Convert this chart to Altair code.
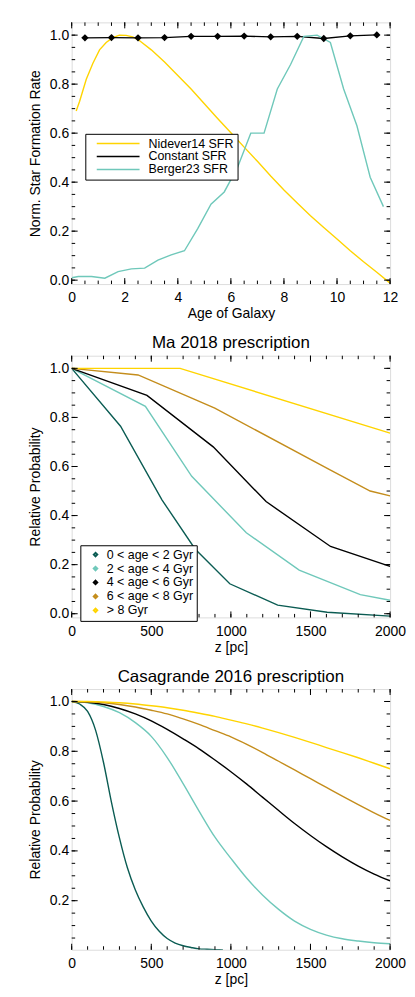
import altair as alt
import pandas as pd

FONT = "Liberation Sans"

# ---------------- Panel 1 : star formation histories ----------------
nid_age = [0.17, 0.3, 0.55, 0.8, 1.05, 1.3, 1.55, 1.8, 2.05, 2.3, 2.55, 3.0, 3.5, 4.0, 4.5,
           5.0, 5.5, 6.0, 6.5, 7.0, 7.5, 8.0, 8.5, 9.0, 9.5, 10.0, 10.5, 11.0, 11.5, 12.0]
nid_sfr = [0.69, 0.73, 0.82, 0.885, 0.94, 0.97, 0.99, 1.0, 0.999, 0.993, 0.978, 0.94, 0.89, 0.835,
           0.78, 0.72, 0.66, 0.602, 0.543, 0.485, 0.425, 0.368, 0.315, 0.263, 0.215, 0.168, 0.12,
           0.075, 0.032, -0.012]

const_age = [0.5, 1.5, 2.5, 3.5, 4.5, 5.5, 6.5, 7.5, 8.5, 9.5, 10.5, 11.5]
const_sfr = [0.989, 0.99, 0.989, 0.99, 0.995, 0.995, 0.996, 0.993, 0.995, 0.986, 0.997, 1.001]

ber_age = [0.0, 0.25, 0.75, 1.25, 1.75, 2.25, 2.75, 3.25, 3.75, 4.25, 4.75, 5.25, 5.75, 6.25,
           6.75, 7.25, 7.75, 8.25, 8.75, 9.25, 9.75, 10.25, 10.75, 11.25, 11.75]
ber_sfr = [0.01, 0.015, 0.015, 0.008, 0.035, 0.046, 0.049, 0.082, 0.103, 0.12, 0.21, 0.31, 0.36,
           0.46, 0.60, 0.60, 0.78, 0.88, 0.995, 1.0, 0.97, 0.78, 0.63, 0.42, 0.30]

SFR_NAMES = ["Nidever14 SFR", "Constant SFR", "Berger23 SFR"]
SFR_COLORS = ["#FFD400", "#000000", "#6FC8BA"]

# ---------------- Panel 2 : Ma 2018 ----------------
AGE_BINS = ["0 < age < 2 Gyr", "2 < age < 4 Gyr", "4 < age < 6 Gyr", "6 < age < 8 Gyr", "> 8 Gyr"]
AGE_COLORS = ["#0B5C53", "#6FC8BA", "#000000", "#C48D1C", "#FFD400"]

ma_z_0 = [0, 307, 567, 775, 993, 1294, 1605, 2000]
ma_p_0 = [1.0, 0.764, 0.464, 0.264, 0.122, 0.035, 0.006, -0.01]
ma_z_1 = [0, 463, 754, 1097, 1429, 1813, 2000]
ma_p_1 = [1.0, 0.845, 0.56, 0.33, 0.178, 0.078, 0.055]
ma_z_2 = [0, 473, 889, 1221, 1626, 2000]
ma_p_2 = [1.0, 0.89, 0.68, 0.457, 0.274, 0.193]
ma_z_3 = [0, 417, 899, 1626, 1875, 2000]
ma_p_3 = [1.0, 0.973, 0.838, 0.585, 0.50, 0.48]
ma_z_4 = [0, 681, 2000]
ma_p_4 = [1.0, 1.0, 0.736]

# ---------------- Panel 3 : Casagrande 2016 ----------------
cas_z_0 = [0, 50, 100, 150, 200, 250, 300, 350, 400, 450, 500, 550, 600, 650, 700, 750, 800,
           850, 900, 950]
cas_p_0 = [1.0, 0.99, 0.96, 0.885, 0.755, 0.595, 0.452, 0.332, 0.243, 0.174, 0.118, 0.077,
           0.048, 0.03, 0.019, 0.012, 0.0065, 0.005, 0.0035, 0.002]
cas_z = [0, 100, 200, 300, 400, 500, 600, 700, 800, 900, 1000, 1100, 1200, 1300, 1400, 1500,
         1600, 1700, 1800, 1900, 2000]
cas_p_1 = [1.0, 0.995, 0.98, 0.955, 0.915, 0.86, 0.775, 0.67, 0.56, 0.455, 0.37, 0.29, 0.222,
           0.165, 0.118, 0.085, 0.062, 0.047, 0.038, 0.031, 0.027]
cas_p_2 = [1.0, 0.997, 0.988, 0.972, 0.95, 0.922, 0.888, 0.85, 0.81, 0.765, 0.718, 0.668, 0.615,
           0.562, 0.51, 0.462, 0.417, 0.376, 0.339, 0.307, 0.28]
cas_p_3 = [1.0, 0.999, 0.995, 0.988, 0.978, 0.965, 0.95, 0.93, 0.908, 0.883, 0.858, 0.828, 0.795,
           0.76, 0.725, 0.69, 0.655, 0.62, 0.586, 0.553, 0.522]
cas_p_4 = [1.0, 1.0, 0.998, 0.995, 0.99, 0.983, 0.975, 0.965, 0.953, 0.94, 0.925, 0.91, 0.893,
           0.875, 0.856, 0.836, 0.815, 0.795, 0.774, 0.752, 0.73]

# axis tick positions
age_major = [0, 2, 4, 6, 8, 10, 12]
age_minor = [i * 0.5 for i in range(25)]
z_major = [0, 500, 1000, 1500, 2000]
z_minor = [i * 100 for i in range(21)]
p_major_full = [0.0, 0.2, 0.4, 0.6, 0.8, 1.0]
p_major_cut = [0.2, 0.4, 0.6, 0.8, 1.0]
p_minor_full = [round(i * 0.05, 2) for i in range(21)]
p_minor_cut = [round(i * 0.05, 2) for i in range(1, 21)]

W = 320


def series(xs, ys, name):
    return pd.DataFrame({"x": xs, "y": ys, "s": name})


def axis(title, values, fmt, orient):
    common = dict(title=title, values=values, format=fmt, ticks=False, domain=False, grid=False,
                  labelFlush=False, labelOverlap=False, labelFont=FONT, labelFontSize=14,
                  labelColor="black", titleFont=FONT, titleFontSize=14, titleFontWeight="normal",
                  titleColor="black")
    if orient == "x":
        return alt.Axis(labelPadding=7, titlePadding=2, **common)
    return alt.Axis(labelPadding=3, titlePadding=7, **common)


def frame_ticks(xs, ys, xax, yax, xmaj, xmin, ymaj, ymin, H):
    layers = []
    for vals, L in [(xmaj, 6), (xmin, 3.5)]:
        base = alt.Chart(pd.DataFrame({"v": vals})).mark_rule(color="black", strokeWidth=1)
        xe = alt.X("v:Q", scale=xs, axis=xax)
        layers.append(base.encode(x=xe, y=alt.value(H), y2=alt.value(H - L)))
        layers.append(base.encode(x=xe, y=alt.value(0), y2=alt.value(L)))
    for vals, L in [(ymaj, 6), (ymin, 3.5)]:
        base = alt.Chart(pd.DataFrame({"v": vals})).mark_rule(color="black", strokeWidth=1)
        ye = alt.Y("v:Q", scale=ys, axis=yax)
        layers.append(base.encode(y=ye, x=alt.value(0), x2=alt.value(L)))
        layers.append(base.encode(y=ye, x=alt.value(W), x2=alt.value(W - L)))
    return layers


def legend(x, y, clip, **kw):
    return alt.Legend(title=None, orient="none", legendX=x, legendY=y, direction="vertical",
                      labelFont=FONT, labelFontSize=12.5, labelColor="black", rowPadding=0,
                      padding=3.5, clipHeight=clip, fillColor="white", strokeColor="black",
                      **kw)


title_kw = dict(fontSize=17, fontWeight="normal", font=FONT, color="black", offset=3,
                anchor="middle")

# ---------- panel 1 ----------
H1 = 263
xs1 = alt.Scale(domain=[0, 12], nice=False, zero=False)
ys1 = alt.Scale(domain=[-0.016, 1.052], nice=False, zero=False)
xa1 = axis("Age of Galaxy", age_major, "d", "x")
ya1 = axis("Norm. Star Formation Rate", p_major_full, ".1f", "y")
df1 = pd.concat([series(nid_age, nid_sfr, SFR_NAMES[0]),
                 series(const_age, const_sfr, SFR_NAMES[1]),
                 series(ber_age, ber_sfr, SFR_NAMES[2])])
col1 = alt.Scale(domain=SFR_NAMES, range=SFR_COLORS)
leg1 = legend(13.7, 112, 12.5, symbolType="stroke", symbolSize=1849, symbolStrokeWidth=1.5,
              labelOffset=8, symbolOffset=7)
lines1 = alt.Chart(df1).mark_line(strokeWidth=1.4, clip=True).encode(
    x=alt.X("x:Q", scale=xs1, axis=xa1),
    y=alt.Y("y:Q", scale=ys1, axis=ya1),
    color=alt.Color("s:N", scale=col1, legend=leg1),
)
pts1 = alt.Chart(series(const_age, const_sfr, SFR_NAMES[1])).mark_point(
    shape="diamond", filled=True, size=55, opacity=1).encode(
    x=alt.X("x:Q", scale=xs1, axis=xa1), y=alt.Y("y:Q", scale=ys1, axis=ya1),
    color=alt.value("black"))
panel1 = alt.layer(lines1, pts1, *frame_ticks(xs1, ys1, xa1, ya1, age_major, age_minor,
                                             p_major_full, p_minor_full, H1)).properties(
    width=W, height=H1)

# ---------- panel 2 ----------
H2 = 263
xs2 = alt.Scale(domain=[0, 2000], nice=False, zero=False)
ys2 = alt.Scale(domain=[-0.015, 1.0515], nice=False, zero=False)
xa2 = axis("z [pc]", z_major, "d", "x")
ya2 = axis("Relative Probability", p_major_full, ".1f", "y")
df2 = pd.concat([series(ma_z_0, ma_p_0, AGE_BINS[0]), series(ma_z_1, ma_p_1, AGE_BINS[1]),
                 series(ma_z_2, ma_p_2, AGE_BINS[2]), series(ma_z_3, ma_p_3, AGE_BINS[3]),
                 series(ma_z_4, ma_p_4, AGE_BINS[4])])
col2 = alt.Scale(domain=AGE_BINS, range=AGE_COLORS)
leg2 = legend(8.7, 190.5, 11.8, symbolType="diamond", symbolSize=12, symbolStrokeWidth=2.0,
              labelOffset=5, symbolOffset=5.5)
lines2 = alt.Chart(df2).mark_line(strokeWidth=1.4, clip=True).encode(
    x=alt.X("x:Q", scale=xs2, axis=xa2),
    y=alt.Y("y:Q", scale=ys2, axis=ya2),
    color=alt.Color("s:N", scale=col2, legend=leg2),
)
panel2 = alt.layer(lines2, *frame_ticks(xs2, ys2, xa2, ya2, z_major, z_minor,
                                        p_major_full, p_minor_full, H2)).properties(
    width=W, height=H2, title=alt.TitleParams("Ma 2018 prescription", **title_kw))

# ---------- panel 3 ----------
H3 = 262
ys3 = alt.Scale(domain=[0.003, 1.05], nice=False, zero=False)
ya3 = axis("Relative Probability", p_major_cut, ".1f", "y")
df3 = pd.concat([series(cas_z_0, cas_p_0, AGE_BINS[0]), series(cas_z, cas_p_1, AGE_BINS[1]),
                 series(cas_z, cas_p_2, AGE_BINS[2]), series(cas_z, cas_p_3, AGE_BINS[3]),
                 series(cas_z, cas_p_4, AGE_BINS[4])])
lines3 = alt.Chart(df3).mark_line(strokeWidth=1.4, clip=True, interpolate="monotone").encode(
    x=alt.X("x:Q", scale=xs2, axis=xa2),
    y=alt.Y("y:Q", scale=ys3, axis=ya3),
    stroke=alt.Stroke("s:N", scale=col2, legend=None),
)
panel3 = alt.layer(lines3, *frame_ticks(xs2, ys3, xa2, ya3, z_major, z_minor,
                                        p_major_cut, p_minor_cut, H3)).properties(
    width=W, height=H3, title=alt.TitleParams("Casagrande 2016 prescription", **title_kw))

chart = alt.vconcat(panel1, panel2, panel3, spacing=12).resolve_scale(
    color="independent", stroke="independent").properties(
    padding={"left": 20, "top": 11, "right": 0, "bottom": 0}
).configure_view(stroke="black", strokeWidth=1).configure(font=FONT)

chart.save("out.html", embed_options={"renderer": "svg", "actions": False})
